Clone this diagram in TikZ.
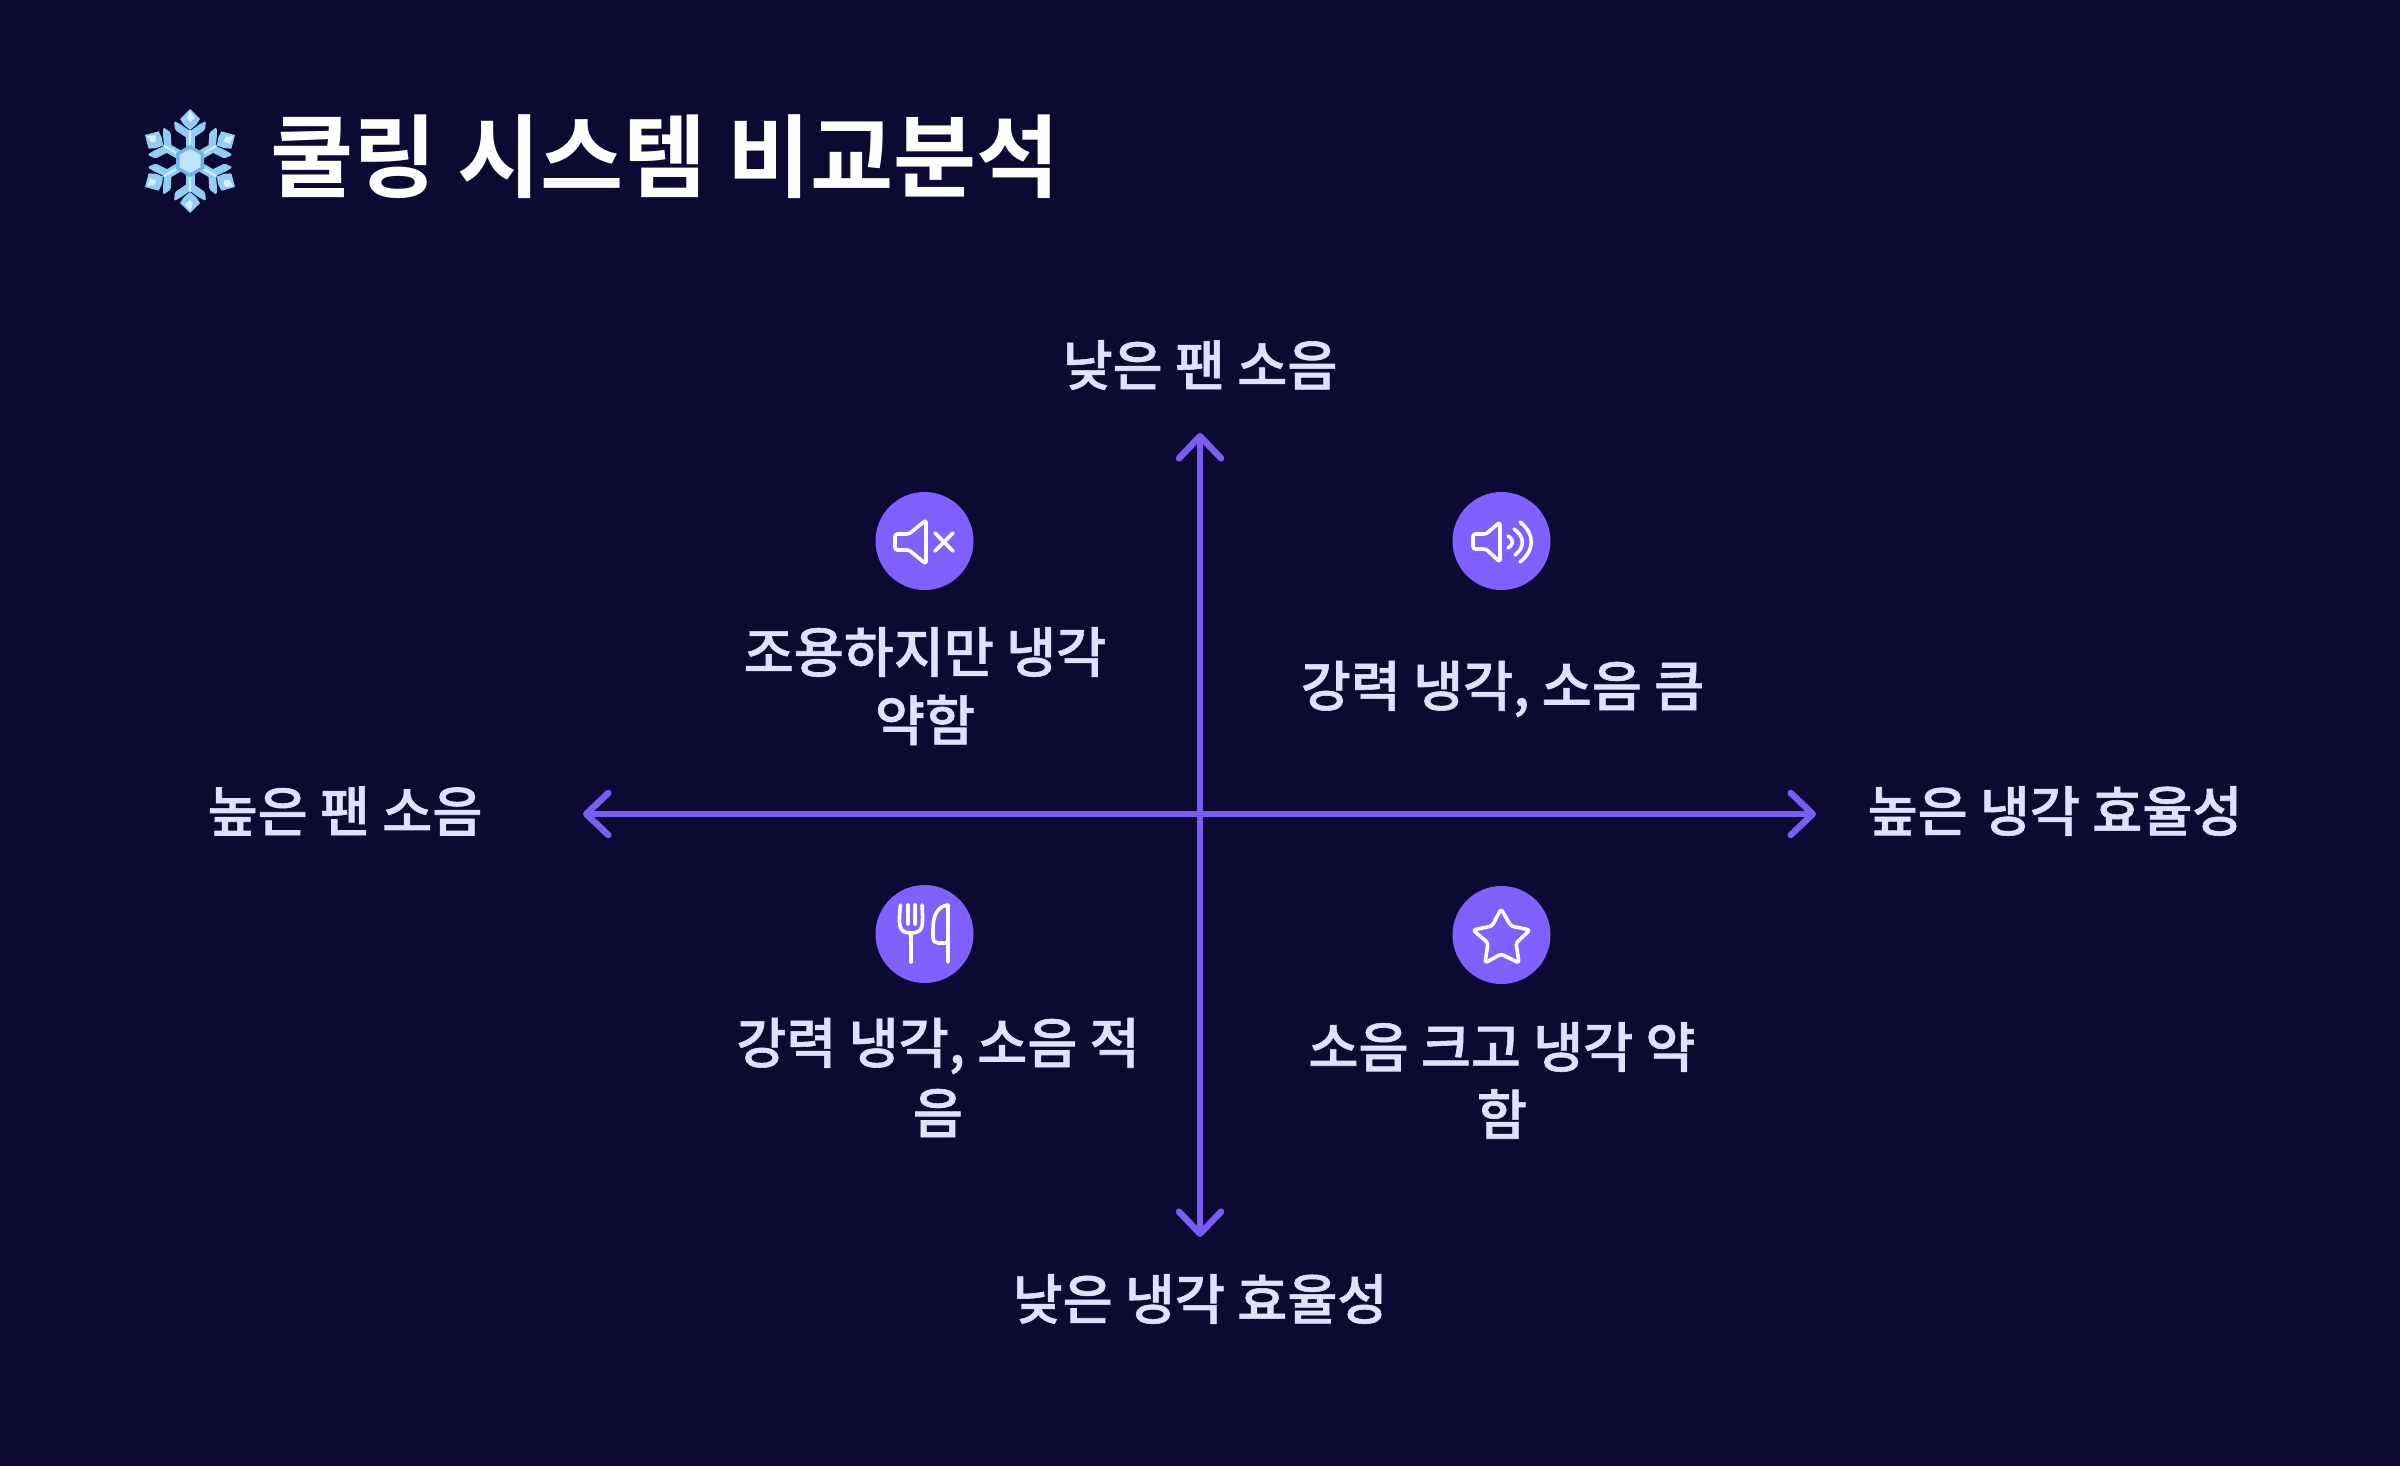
\documentclass[tikz,border=0pt]{standalone}
\usepackage{fontspec}
\usetikzlibrary{arrows.meta}
\setmainfont{Noto Sans CJK KR}
\newfontfamily\krtitle{Noto Sans CJK KR Bold}
\newfontfamily\krlabel[FakeBold=1.1]{Noto Sans CJK KR Medium}
\definecolor{bgc}{HTML}{0C0A33}
\definecolor{axisc}{HTML}{7B5CF5}
\definecolor{circc}{HTML}{8060FF}
\definecolor{labelc}{HTML}{E0E0FF}
\definecolor{flakec}{HTML}{92CDF2}
\definecolor{flakel}{HTML}{D4F0FF}
\definecolor{flaked}{HTML}{6FB4E6}
\tikzset{
  axisline/.style={draw=axisc,line width=6.5pt,line cap=round,-{Straight Barb[length=22pt,width=42pt,line width=6.5pt,round]}},
  lbl/.style={text=labelc,font=\krlabel\fontsize{54.4}{66}\selectfont,inner sep=0pt,align=center},
  badge/.style={circle,fill=circc,minimum size=98pt,inner sep=0pt,draw=none},
  ico/.style={draw=white,line width=3.6pt,line cap=round,line join=round,fill=none},
  flakearm/.style={fill=flakec,draw=none},
}
\begin{document}
\begin{tikzpicture}[x=1pt,y=-1pt]
\useasboundingbox[fill=bgc] (0,0) rectangle (2400,1466);

% snowflake
\begin{scope}[shift={(190,161)}]
 \foreach \a in {0,60,...,300}{
  \begin{scope}[rotate=\a]
   \fill[flakearm] (-4.5,0) rectangle (4.5,-30);
   \fill[flakearm,rounded corners=1.5pt] (-16,-40) -- (-15,-31) -- (0,-21) -- (15,-31) -- (16,-40) -- (10,-37) -- (0,-30) -- (-10,-37) -- cycle;
   \fill[flakearm] (0,-52) -- (10,-42) -- (6,-36) -- (0,-31) -- (-6,-36) -- (-10,-42) -- cycle;
   \fill[flakel] (-1,-30) rectangle (1,-15);
   \fill[flakel] (0,-50) -- (5,-43) -- (0,-39) -- (-3,-43) -- cycle;
  \end{scope}}
 \fill[flaked] (0,-16) -- (14,-8) -- (14,8) -- (0,16) -- (-14,8) -- (-14,-8) -- cycle;
 \fill[flakel!70!flakec] (0,-12) -- (10.5,-6) -- (10.5,6) -- (0,12) -- (-10.5,6) -- (-10.5,-6) -- cycle;
\end{scope}

\node[anchor=west,text=white,font=\krtitle\fontsize{90.4}{110}\selectfont,inner sep=0pt] (title) at (270,157) {쿨링 시스템 비교분석};

% axes
\coordinate (cross) at (1200,814);
\coordinate (leftend) at (583,814);
\coordinate (rightend) at (1816,814);
\coordinate (topend) at (1200,433);
\coordinate (bottomend) at (1200,1237);
\draw[axisline] (cross) -- (leftend);
\draw[axisline] (cross) -- (rightend);
\draw[axisline] (cross) -- (topend);
\draw[axisline] (cross) -- (bottomend);

% axis labels
\node[lbl] (ntop) at (1200,365) {낮은 팬 소음};
\node[lbl] (nleft) at (345,811) {높은 팬 소음};
\node[lbl] (nright) at (2055,811) {높은 냉각 효율성};
\node[lbl] (nbottom) at (1200,1299) {낮은 냉각 효율성};

% quadrant labels
\node[lbl] (q1a) at (925,652) {조용하지만 냉각};
\node[lbl] (q1b) at (925,720) {약함};
\node[lbl] (q2a) at (1502.5,689) {강력 냉각, 소음 큼};
\node[lbl] (q3a) at (938,1046) {강력 냉각, 소음 적};
\node[lbl] (q3b) at (938,1113) {음};
\node[lbl] (q4a) at (1502,1047) {소음 크고 냉각 약};
\node[lbl] (q4b) at (1502,1114) {함};

% badges
\node[badge] (b1) at (924.5,541) {};
\node[badge] (b2) at (1501.5,541) {};
\node[badge] (b3) at (924.5,934) {};
\node[badge] (b4) at (1501.5,935) {};

% muted speaker
\draw[ico,rounded corners=2.5pt] (895,534) -- (909,534) -- (926,520) -- (926,564) -- (909,550) -- (895,550) -- cycle;
\draw[ico] (935,533) -- (953,551) (953,533) -- (935,551);

% loud speaker
\draw[ico,rounded corners=2.5pt] (1473,534) -- (1486,534) -- (1500,522) -- (1500,562) -- (1486,549) -- (1473,549) -- cycle;
\draw[ico] (1508,536) .. controls (1514,540) and (1514,544) .. (1508,548);
\draw[ico] (1514,529) .. controls (1525,537) and (1525,547) .. (1515,555);
\draw[ico] (1520,522) .. controls (1535,534) and (1535,550) .. (1520,562);

% fork and knife
\draw[ico] (900.5,905) .. controls (899.5,913) and (899,921) .. (900,926) .. controls (901,931) and (905,933) .. (911,933) .. controls (917,933) and (921,931) .. (922,926) .. controls (923,921) and (922.5,913) .. (922,905);
\draw[ico] (908,905) -- (908,924) (915,905) -- (915,924) (911,933) -- (911,962);
\draw[ico] (948,962) -- (948,905) .. controls (938,906) and (933,915) .. (933,929) -- (933,937) .. controls (933,941) and (935,943) .. (938,943) -- (948,943);

% star
\draw[ico,rounded corners=2.5pt] (1501,909) -- (1511,926) -- (1530,930) -- (1516,943) -- (1519,963) -- (1501,954) -- (1485,963) -- (1488,943) -- (1473,930) -- (1492,926) -- cycle;
\end{tikzpicture}
\end{document}
